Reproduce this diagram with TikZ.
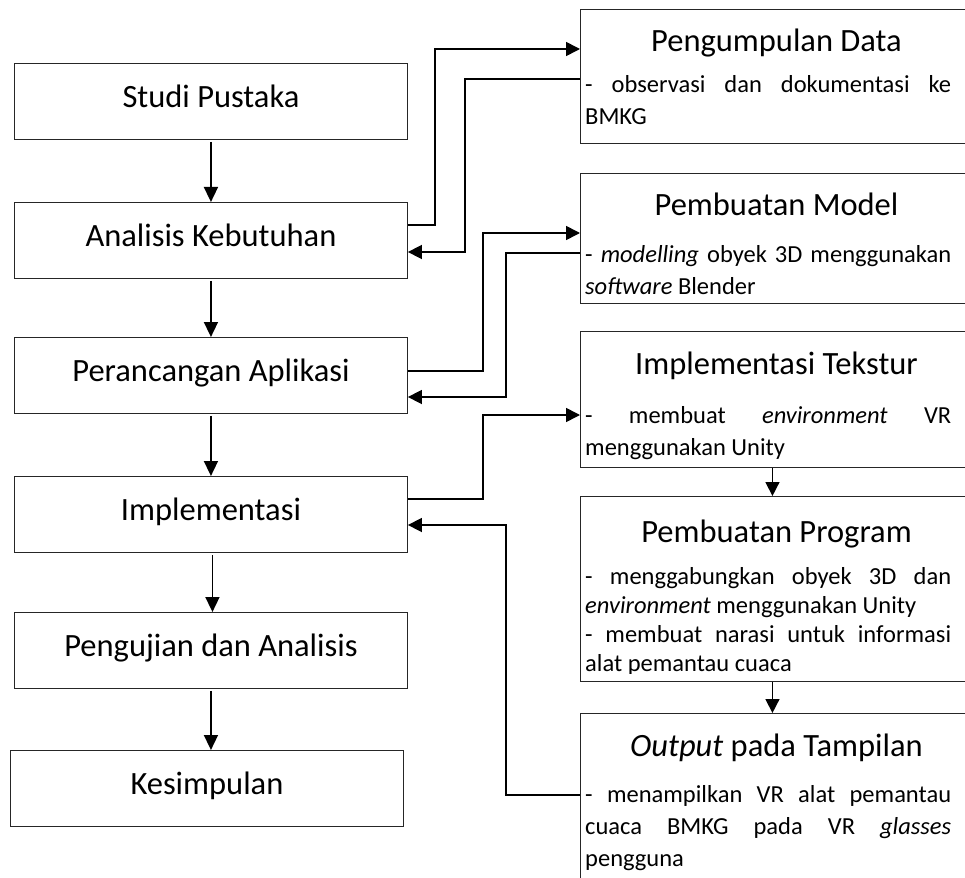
\documentclass[tikz,border=0pt]{standalone}
\usepackage{fontspec}
\setmainfont{Carlito}
\usetikzlibrary{arrows.meta,calc}
\newcommand{\jline}[1]{\makebox[366pt][s]{#1}}
\begin{document}
\begin{tikzpicture}[x=1pt,y=-1pt,
  boxframe/.style={draw=black!85, line width=0.9pt, inner sep=0pt, minimum width=393pt, anchor=north west},
  lbox/.style={boxframe, minimum height=76pt, text height=44pt, text depth=32pt, font=\fontsize{32.5}{38}\selectfont},
  rtitle/.style={anchor=base, inner sep=0pt, font=\fontsize{32.5}{38}\selectfont},
  rbody/.style={anchor=base west, inner sep=0pt, font=\fontsize{24.5}{30}\selectfont},
  conn/.style={line width=1.6pt, -{Triangle[length=14pt,width=14pt]}},
  dconn/.style={conn, shorten <=2pt, -{Triangle[length=15pt,width=14pt]}}
]
\useasboundingbox (0,0) rectangle (965,877);

% left column
\node[lbox] (sp) at (14,63)  {Studi Pustaka};
\node[lbox] (ak) at (14,202) {Analisis Kebutuhan};
\node[lbox] (pa) at (14,337) {Perancangan Aplikasi};
\node[lbox] (im) at (14,476) {Implementasi};
\node[lbox] (pu) at (14,612) {Pengujian dan Analisis};
\node[lbox] (ks) at (10,750) {Kesimpulan};

% right column frames
\node[boxframe, minimum height=134pt] (pd) at (580,9) {};
\node[boxframe, minimum height=130pt] (pm) at (580,173) {};
\node[boxframe, minimum height=136pt] (it) at (580,331) {};
\node[boxframe, minimum height=185pt] (pp) at (580,496) {};
\node[boxframe, minimum height=200pt] (op) at (580,713) {};

% right column texts
\node[rtitle] (pdt) at (776.5,52) {Pengumpulan Data};
\node[rbody] (pd1) at (585,93) {\jline{- observasi dan dokumentasi ke}};
\node[rbody] (pd2) at (585,125) {BMKG};

\node[rtitle] (pmt) at (776.5,215) {Pembuatan Model};
\node[rbody] (pm1) at (585,262) {\jline{- \textit{modelling} obyek 3D menggunakan}};
\node[rbody] (pm2) at (585,294) {\textit{software} Blender};

\node[rtitle] (itt) at (776.5,374) {Implementasi Tekstur};
\node[rbody] (it1) at (585,423) {\jline{- membuat \textit{environment} VR}};
\node[rbody] (it2) at (585,455) {menggunakan Unity};

\node[rtitle] (ppt) at (776.5,542) {Pembuatan Program};
\begin{scope}
\clip (580,496) rectangle (973,673);
\node[rbody] (pp1) at (585,584) {\jline{- menggabungkan obyek 3D dan}};
\node[rbody] (pp2) at (585,613) {\textit{environment} menggunakan Unity};
\node[rbody] (pp3) at (585,642) {\jline{- membuat narasi untuk informasi}};
\node[rbody] (pp4) at (585,671) {alat pemantau cuaca};
\end{scope}

\node[rtitle] (opt) at (776.5,756) {\textit{Output} pada Tampilan};
\node[rbody] (op1) at (585,802) {\jline{- menampilkan VR alat pemantau}};
\node[rbody] (op2) at (585,834) {\jline{cuaca BMKG pada VR \textit{glasses}}};
\node[rbody] (op3) at (585,866) {pengguna};

% left column arrows
\draw[dconn] (sp.south) -- (ak.north);
\draw[dconn] (ak.south) -- (pa.north);
\draw[dconn] (pa.south) -- (im.north);
\draw[dconn] ([xshift=1.5pt]im.south) -- ([xshift=1.5pt]pu.north);
\draw[dconn] (pu.south) -- (pu.south |- ks.north);

% links between columns
\draw[conn] ([yshift=-23pt]ak.north east) -- ++(27,0) |- ([yshift=-40pt]pd.north west);
\draw[conn] ([yshift=-70pt]pd.north west) -- ++(-115,0) |- ([yshift=-50pt]ak.north east);
\draw[conn] ([yshift=-34pt]pa.north east) -- ++(75,0) |- ([yshift=-60pt]pm.north west);
\draw[conn] ([yshift=-80pt]pm.north west) -- ++(-74,0) |- ([yshift=-60pt]pa.north east);
\draw[conn] ([yshift=-23pt]im.north east) -- ++(75,0) |- ([yshift=-84pt]it.north west);
\draw[conn] ([yshift=-82pt]op.north west) -- ++(-74,0) |- ([yshift=-49pt]im.north east);

% right column arrows
\draw[conn] ([xshift=-4.5pt]it.south) -- ([xshift=-4.5pt]pp.north);
\draw[conn] ([xshift=-4.5pt]pp.south) -- ([xshift=-4.5pt]op.north);
\end{tikzpicture}
\end{document}
